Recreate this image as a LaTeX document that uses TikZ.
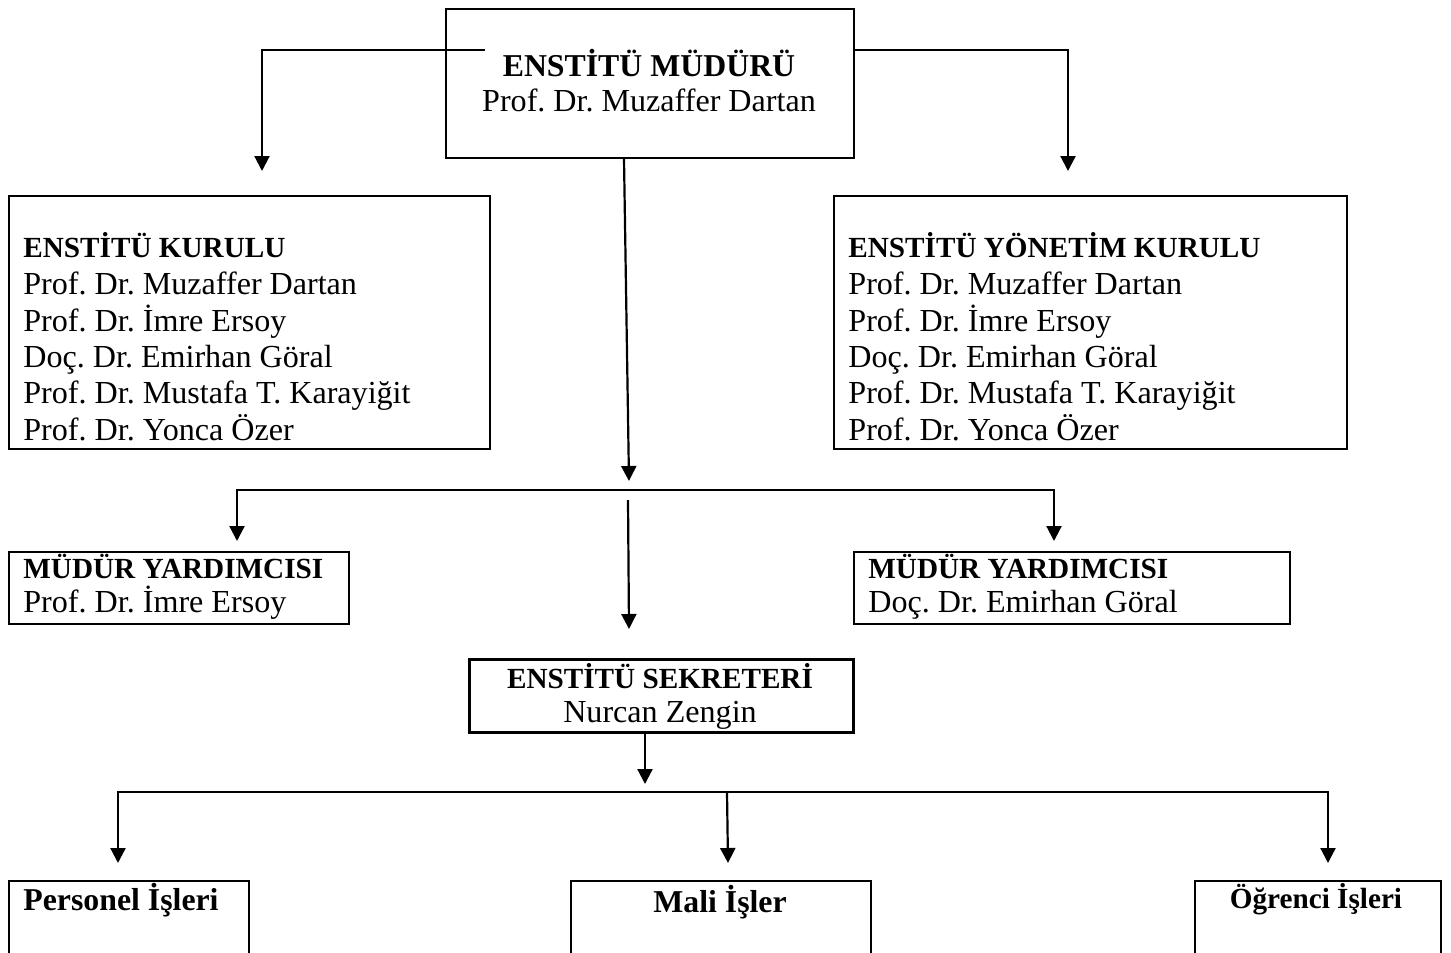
\documentclass[tikz,border=0pt]{standalone}
\usepackage{fontspec}
\setmainfont{Liberation Serif}
\usetikzlibrary{arrows.meta,calc}
\begin{document}
\frenchspacing
\begin{tikzpicture}[x=0.5pt,y=-0.5pt,
  box/.style={draw,line width=1pt,inner sep=0pt,anchor=north west},
  arr/.style={line width=1.1pt,-{Triangle[length=7.5pt,width=7.5pt]}},
  txt/.style={inner sep=0pt,font=\fontsize{16.05}{18.4}\selectfont},
  btxt/.style={inner sep=0pt,font=\fontsize{15.9}{18.3}\selectfont\bfseries},
  stxt/.style={inner sep=0pt,font=\fontsize{14.6}{17}\selectfont\bfseries}]
\useasboundingbox (0,0) rectangle (1451,953);
% boxes
\node[box,minimum width=204pt,minimum height=74.5pt] (top) at (445,8) {};
\node[box,minimum width=240.5pt,minimum height=126.5pt] (kurul) at (8,195) {};
\node[box,minimum width=256.5pt,minimum height=126.5pt] (yon) at (833,195) {};
\node[box,minimum width=170pt,minimum height=36pt] (myl) at (8,551) {};
\node[box,minimum width=218pt,minimum height=36pt] (myr) at (853,551) {};
\node[box,line width=1.5pt,minimum width=192pt,minimum height=36.5pt] (sek) at (468,658) {};
\node[box,minimum width=120pt,minimum height=45pt] (per) at (8,880) {};
\node[box,minimum width=150pt,minimum height=45pt] (mali) at (570,880) {};
\node[box,minimum width=123pt,minimum height=45pt] (ogr) at (1194,880) {};
% texts
\node[btxt,anchor=base] (t1) at (649,76) {ENSTİTÜ MÜDÜRÜ};
\node[txt,anchor=base] (t2) at (649,111) {Prof. Dr. Muzaffer Dartan};
\node[stxt,anchor=base west] (k1) at (23,257) {ENSTİTÜ KURULU};
\node[txt,anchor=base west] (k2) at (23,294) {Prof. Dr. Muzaffer Dartan};
\node[txt,anchor=base west] (k3) at (23,331) {Prof. Dr. İmre Ersoy};
\node[txt,anchor=base west] (k4) at (23,367) {Doç. Dr. Emirhan Göral};
\node[txt,anchor=base west] (k5) at (23,403) {Prof. Dr. Mustafa T. Karayiğit};
\node[txt,anchor=base west] (k6) at (23,440) {Prof. Dr. Yonca Özer};
\node[stxt,anchor=base west] (y1) at (848,257) {ENSTİTÜ YÖNETİM KURULU};
\node[txt,anchor=base west] (y2) at (848,294) {Prof. Dr. Muzaffer Dartan};
\node[txt,anchor=base west] (y3) at (848,331) {Prof. Dr. İmre Ersoy};
\node[txt,anchor=base west] (y4) at (848,367) {Doç. Dr. Emirhan Göral};
\node[txt,anchor=base west] (y5) at (848,403) {Prof. Dr. Mustafa T. Karayiğit};
\node[txt,anchor=base west] (y6) at (848,440) {Prof. Dr. Yonca Özer};
\node[stxt,anchor=base west] (ml1) at (23,578) {MÜDÜR YARDIMCISI};
\node[txt,anchor=base west] (ml2) at (23,612) {Prof. Dr. İmre Ersoy};
\node[stxt,anchor=base west] (mr1) at (868,578) {MÜDÜR YARDIMCISI};
\node[txt,anchor=base west] (mr2) at (868,612) {Doç. Dr. Emirhan Göral};
\node[stxt,anchor=base] (s1) at (660,688) {ENSTİTÜ SEKRETERİ};
\node[txt,anchor=base] (s2) at (660,722) {Nurcan Zengin};
\node[btxt,anchor=base west] (p1) at (23,910) {Personel İşleri};
\node[btxt,anchor=base] (m1) at (720,912) {Mali İşler};
\node[stxt,anchor=base] (o1) at (1316,908) {Öğrenci İşleri};
% connectors
\coordinate (tipA) at (262,171);
\coordinate (tipB) at (1068,171);
\coordinate (tipC) at (629,481);
\draw[arr] ($(top.north west)+(40,42)$) -| (tipA);
\draw[arr] ($(top.north east)+(0,42)$) -| (tipB);
\draw[arr] ($(top.south west)+(179,0)$) -- (tipC);
\coordinate (j1) at (629,490);
\coordinate (tipD) at (237,541);
\coordinate (tipE) at (1054,541);
\draw[arr] (j1) -| (tipD);
\draw[arr] (j1) -| (tipE);
\coordinate (j1b) at (628,500);
\coordinate (tipF) at (629,629);
\draw[arr] (j1b) -- (tipF);
\coordinate (tipG) at (645,784);
\draw[arr] ($(sek.south west)+(177,0)$) -- (tipG);
\coordinate (j2) at (727,792);
\coordinate (tipH) at (118,863);
\coordinate (tipI) at (1328,863);
\coordinate (tipJ) at (728,863);
\draw[arr] (j2) -| (tipH);
\draw[arr] (j2) -| (tipI);
\draw[arr] (j2) -- (tipJ);
\end{tikzpicture}
\end{document}
